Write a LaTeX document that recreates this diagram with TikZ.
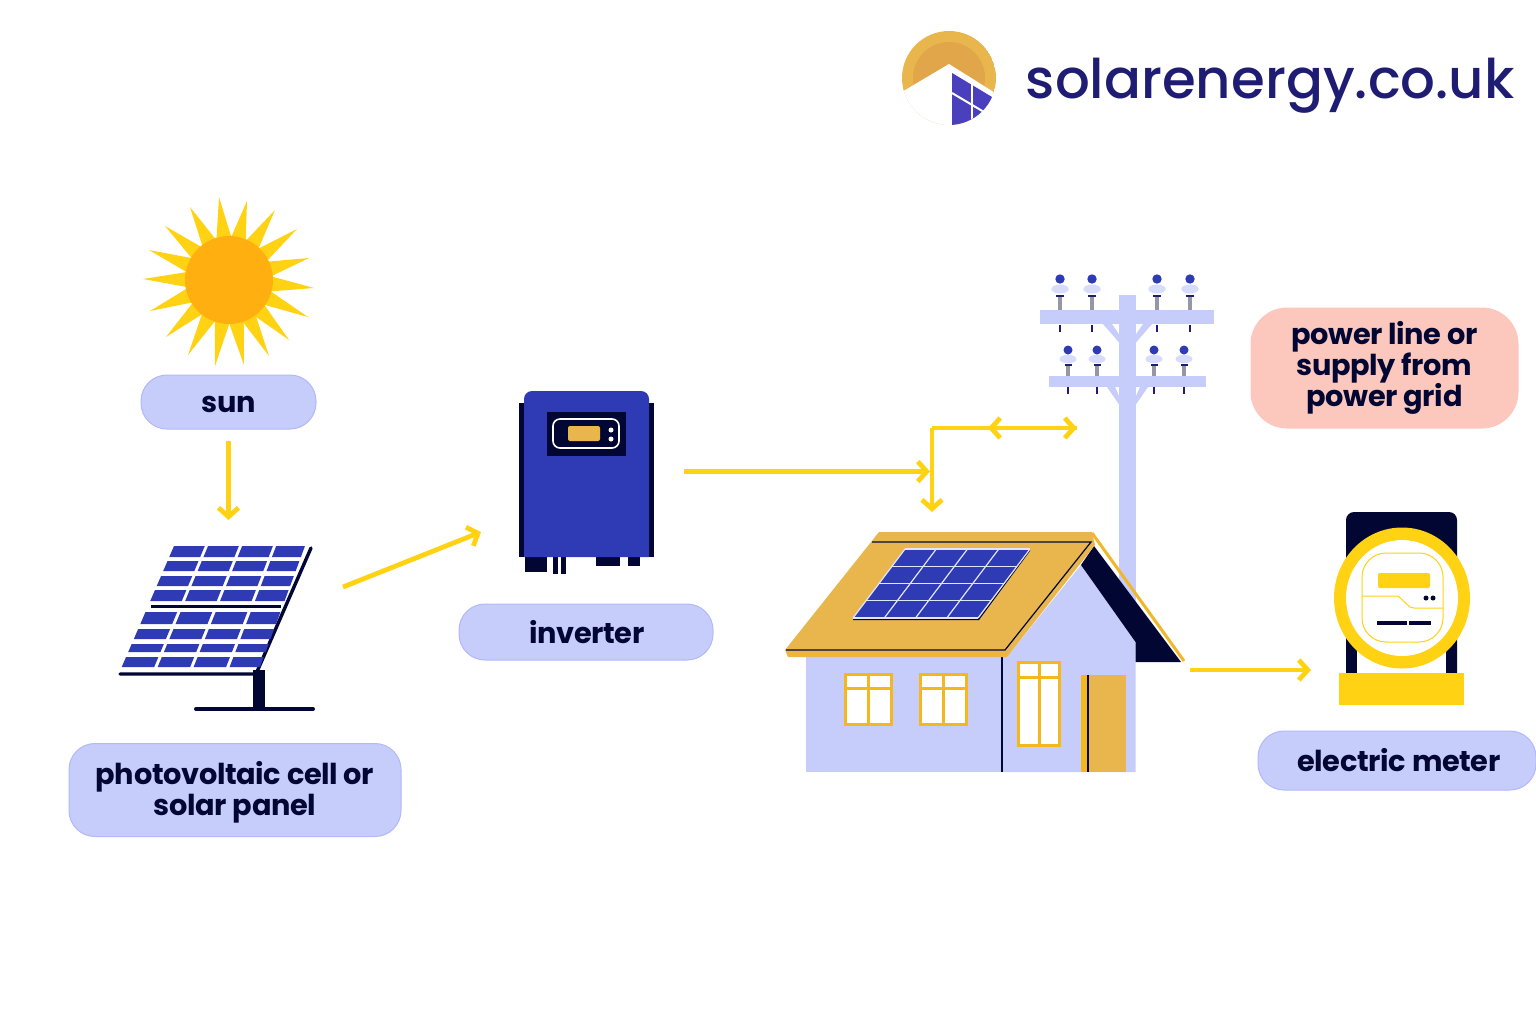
\documentclass[tikz,border=0pt]{standalone}
\usepackage{fontspec}
\setmainfont{Poppins}
\newfontfamily\labelfont{Poppins}[BoldFont=Poppins Bold,LetterSpace=-1.2]
\newfontfamily\logofont{Poppins Medium}
\newcommand\labelsetup{\labelfont\bfseries\fontsize{14.4}{15.5}\selectfont\lineskiplimit -20pt\relax}
\usetikzlibrary{arrows.meta}
\definecolor{navy}{HTML}{020633}
\definecolor{logoblue}{HTML}{1F1C73}
\definecolor{logopanel}{HTML}{4A40BE}
\definecolor{logosun}{HTML}{E2A64A}
\definecolor{panelblue}{HTML}{2F3AB5}
\definecolor{lilac}{HTML}{C6CDFB}
\definecolor{rose}{HTML}{FCC8BE}
\definecolor{gold}{HTML}{E8B64C}
\definecolor{sunny}{HTML}{FFD214}
\definecolor{suncore}{HTML}{FFB010}
\definecolor{frame}{HTML}{F4B81C}
\tikzset{
  declare function={
    solarx(\y,\c)=174-(\y-546)*0.432+((305-(\y-546)*0.372)-(174-(\y-546)*0.432))*\c;
    roofx(\v,\c)=905-52*\v+125*\c;
  },
  label/.style={fill=lilac,draw=lilac!90!blue,line width=0.5pt,rounded corners=13pt,align=center,
    font=\labelsetup,text=navy,inner sep=0pt},
  flow/.style={draw=sunny,line width=2.4pt,-{Straight Barb[length=4.5pt,width=10pt,line width=2.4pt]}},
  windowframe/.style={draw=frame,line width=1.5pt,fill=white},
}
\begin{document}
\begin{tikzpicture}[x=0.5pt,y=-0.5pt]
\useasboundingbox (0,0) rectangle (1536,1024);

% logo
\begin{scope}
\clip (949,78) circle [radius=47];
\fill[gold] (949,78) circle [radius=47];
\fill[logosun] (949,78) circle [radius=36];
\fill[white] (949,64) -- (1000,96) -- (1000,130) -- (895,130) -- (895,96) -- cycle;
\fill[logopanel] (952,73) -- (992,97) -- (1000,130) -- (952,130) -- cycle;
\draw[white,line width=1pt] (952,93) -- (984,112);
\draw[white,line width=1pt] (972,84) -- (972,122);
\end{scope}
\node[font=\logofont\fontsize{27.3}{30}\selectfont,text=logoblue,anchor=base west,inner sep=0pt] (logotext) at (1025.5,98.5) {solarenergy.co.uk};

% sun
\foreach \tx/\ty in {219/197,247/201,275/210,297/229,309/258,314/288,308/317,289/340,269/356,244/365,215/366,188/355,166/337,150/311,143/279,149/250,165/226,190/207}{
  \pgfmathsetmacro\ang{atan2(\ty-280,\tx-229)}
  \fill[sunny] (\tx,\ty) -- ({229+43*cos(\ang-10)},{280+43*sin(\ang-10)}) -- ({229+43*cos(\ang+10)},{280+43*sin(\ang+10)}) -- cycle;
}
\fill[suncore] (229,280) circle [radius=44];
\node[label,minimum width=87.5pt,minimum height=27pt] (sunlabel) at (228.5,402) {\rule{0pt}{11pt}sun};

% solar panel
\fill[navy] (253,670) rectangle (265,708);
\draw[navy,line width=2pt,line cap=round] (196,709) -- (313,709);
\draw[navy,line width=1.7pt,line cap=round] (120,674) -- (256,674) -- (311,548);
\draw[navy,line width=1.5pt] (151,606) -- (281,606);
\foreach \ya/\yb in {546/557,561/571,576/586,590/601,612/624,629/639,644/652,657/667}{
  \foreach \ca/\cb in {0/0.235,0.26/0.495,0.52/0.755,0.78/1}{
    \fill[panelblue] ({solarx(\ya,\ca)},\ya) -- ({solarx(\ya,\cb)},\ya) -- ({solarx(\yb,\cb)},\yb) -- ({solarx(\yb,\ca)},\yb) -- cycle;
  }
}
\node[label,minimum width=166pt,minimum height=46.5pt] (panellabel) at (235,790) {\rule{0pt}{14pt}photovoltaic cell or\\solar panel};

% inverter
\fill[navy] (519,403) rectangle (654,557);
\fill[navy] (525,557) rectangle (547,572);
\fill[navy] (553,557) rectangle (558,574);
\fill[navy] (561,557) rectangle (566,574);
\fill[navy] (596,557) rectangle (620,566);
\fill[navy] (628,557) rectangle (640,566);
\fill[panelblue] (524,557) [rounded corners=4pt] -- (524,391) -- (649,391) [sharp corners] -- (649,557) -- cycle;
\fill[navy] (547,412) rectangle (626,456);
\draw[white,line width=0.8pt,rounded corners=3.5pt] (553,419) rectangle (619,448);
\fill[gold,rounded corners=1pt] (568,426) rectangle (600,441);
\fill[white] (611,430) circle [radius=2.5];
\fill[white] (611,439) circle [radius=2.5];
\node[label,minimum width=127pt,minimum height=28pt] (inverterlabel) at (586,632) {\hspace*{1pt}inverter};

% pole
\fill[lilac] (1119,295) rectangle (1136,620);
\fill[lilac] (1040,310) rectangle (1214,324);
\fill[lilac] (1049,376) rectangle (1206,387);
\foreach \s in {-1,1}{
  \fill[lilac] ({1127.5+\s*8},343) -- ({1127.5+\s*24.5},324) -- ({1127.5+\s*15.5},324) -- ({1127.5+\s*8},335) -- cycle;
  \fill[lilac] ({1127.5+\s*8},405) -- ({1127.5+\s*20.5},387) -- ({1127.5+\s*12.5},387) -- ({1127.5+\s*8},397) -- cycle;
}
\foreach \px in {1060,1092,1157,1190}{
  \fill[gray!70!lilac] (\px-1.7,296) rectangle (\px+1.7,310);
  \fill[lilac!70!white] (\px,289) ellipse [x radius=8.7,y radius=4.5];
  \fill[logoblue] (\px-4,295) rectangle (\px+4,297);
  \fill[panelblue] (\px,279) circle [radius=4.7];
  \fill[logoblue] (\px-0.8,325) rectangle (\px+0.8,332);
}
\foreach \px in {1068,1097,1154,1184}{
  \fill[gray!70!lilac] (\px-1.7,365) rectangle (\px+1.7,376);
  \fill[lilac!70!white] (\px,359) ellipse [x radius=8.5,y radius=4.2];
  \fill[logoblue] (\px-3.5,364) rectangle (\px+3.5,366);
  \fill[panelblue] (\px,350) circle [radius=4.5];
  \fill[logoblue] (\px-0.8,387) rectangle (\px+0.8,394);
}
\node[label,fill=rose,draw=rose,minimum width=133.5pt,minimum height=60pt,rounded corners=18pt] (gridlabel) at (1384.5,368) {power line or\\supply from\\power grid};

% house
\fill[lilac] (806,657) rectangle (1002,772);
\fill[lilac] (1003,772) -- (1003,657) -- (1007,657) -- (1081,565) -- (1135.5,642) -- (1135.5,772) -- cycle;
\fill[navy] (1001.3,657) rectangle (1002.5,772);
\fill[navy] (1094,546) -- (1181,662) -- (1135.5,662) -- (1135.5,642) -- (1081,565) -- cycle;
\draw[frame!70!gold,line width=1.5pt] (1092,533) -- (1184,661);
\fill[gold] (879,532) -- (1092,532) -- (1095,545) -- (1007,657) -- (788,657) -- (785,650) -- cycle;
\draw[frame!70!gold,line width=1pt] (787,654) -- (1007,654);
\draw[navy,line width=0.6pt] (872,542) -- (1091,542) -- (1005,650) -- (786,650);
\fill[navy] (853,620) -- (979,620) -- (1030,551) -- (1030,549) -- (979,618) -- (853,618) -- cycle;
\fill[panelblue] (905,549) -- (1030,549) -- (979,618) -- (853,618) -- cycle;
\foreach \v in {0,0.25,0.5,0.75,1}{
  \draw[lilac!50!white,line width=0.6pt] ({roofx(\v,0)},{549+69*\v}) -- ({roofx(\v,1)},{549+69*\v});
}
\foreach \c in {0,0.25,0.5,0.75,1}{
  \draw[lilac!50!white,line width=0.6pt] ({roofx(0,\c)},549) -- ({roofx(1,\c)},618);
}
\foreach \wx in {845,920}{
  \draw[windowframe] (\wx,674) rectangle (\wx+46,724);
  \draw[frame,line width=1.5pt] (\wx+23,674) -- (\wx+23,724);
  \draw[frame,line width=1.5pt] (\wx,688) -- (\wx+46,688);
}
\draw[windowframe] (1018,662) rectangle (1059,745);
\draw[frame,line width=1.5pt] (1039,662) -- (1039,745);
\draw[frame,line width=1.5pt] (1018,677) -- (1059,677);
\fill[gold] (1081,675) rectangle (1126,772);
\fill[frame] (1081,675) rectangle (1087,772);
\fill[navy] (1087.2,675) rectangle (1088.8,772);

% meter
\fill[navy] (1346,673) [rounded corners=4pt] -- (1346,512) -- (1457,512) [sharp corners] -- (1457,673) -- cycle;
\fill[white] (1357,620) rectangle (1446,673);
\fill[sunny] (1402,598) ellipse [x radius=68,y radius=70.5];
\fill[white] (1402,598) ellipse [x radius=56,y radius=58];
\draw[sunny,line width=0.5pt,rounded corners=12pt] (1362,553) rectangle (1443,642);
\fill[sunny,rounded corners=1pt] (1378,573) rectangle (1430,588);
\draw[sunny,line width=0.5pt] (1362,596) -- (1398,596) -- (1410,607) -- (1414,608) -- (1443,608);
\fill[navy] (1426,598) circle [radius=2.5];
\fill[navy] (1433,598) circle [radius=2.5];
\fill[navy] (1377,621) rectangle (1407,625);
\fill[navy] (1409,621) rectangle (1431,625);
\fill[sunny] (1339,673) rectangle (1464,705);
\node[label,minimum width=139pt,minimum height=29.5pt] (meterlabel) at (1397,760.5) {\hspace*{2pt}electric meter};

% flows
\coordinate (sunout) at (228.5,441);
\coordinate (panelin) at (228.5,520);
\coordinate (panelout) at (343,587);
\coordinate (inverterin) at (481,532);
\coordinate (inverterout) at (684,471.5);
\coordinate (branch) at (930,471.5);
\coordinate (corner) at (932,428);
\coordinate (housein) at (932,512);
\coordinate (gridin) at (1077,428);
\coordinate (gridback) at (988,428);
\coordinate (houseout) at (1190,670);
\coordinate (meterin) at (1311,670);
\draw[flow] (sunout) -- (panelin);
\draw[flow] (panelout) -- (inverterin);
\draw[flow] (inverterout) -- (branch);
\draw[flow] (corner) -- (housein);
\draw[flow] (corner) -- (gridin);
\draw[flow] (gridin) -- (gridback);
\draw[flow] (houseout) -- (meterin);
\end{tikzpicture}
\end{document}
